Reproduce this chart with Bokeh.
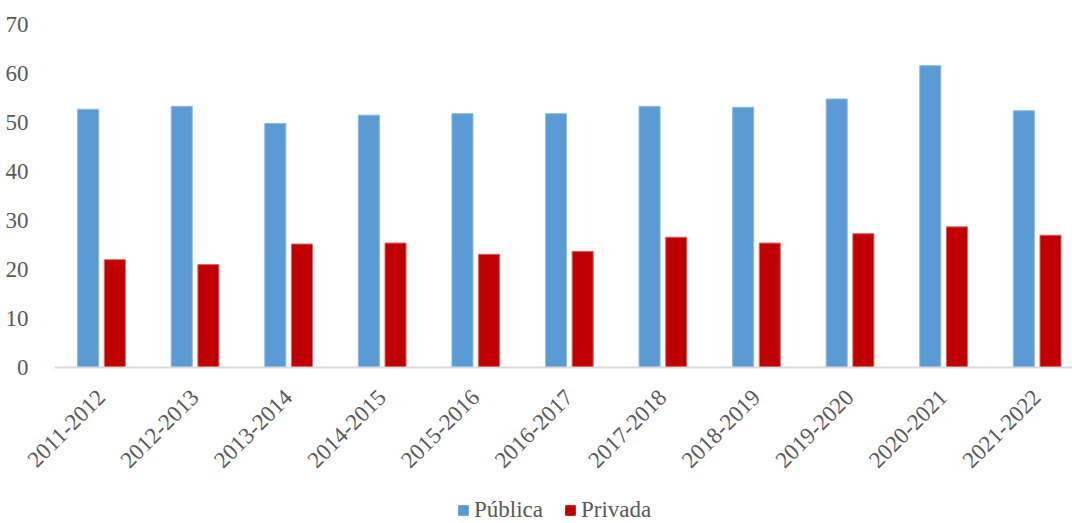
from bokeh.plotting import figure
from bokeh.models import ColumnDataSource, Range1d, FixedTicker, Legend, LegendItem
from bokeh.layouts import column
from bokeh.transform import dodge
from bokeh.embed import file_html
from bokeh.resources import INLINE

years = ["2011-2012", "2012-2013", "2013-2014", "2014-2015", "2015-2016", "2016-2017",
         "2017-2018", "2018-2019", "2019-2020", "2020-2021", "2021-2022"]
publica = [52.7, 53.3, 49.8, 51.5, 51.8, 51.8, 53.3, 53.1, 54.8, 61.6, 52.4]
privada = [22.0, 21.0, 25.2, 25.4, 23.1, 23.7, 26.6, 25.4, 27.3, 28.7, 27.0]
y_ticks = [0, 10, 20, 30, 40, 50, 60, 70]
series = ["Pública", "Privada"]
colors = ["#5B9BD5", "#C00000"]

FONT = "Liberation Serif"
TXT = "#595959"
FS = "23px"

src = ColumnDataSource(dict(x=list(range(len(years))), pub=publica, pri=privada))

p = figure(width=1072, height=483, output_backend="svg", toolbar_location=None,
           x_range=Range1d(-0.5, 10.38), y_range=Range1d(0, 70),
           min_border_left=54, min_border_right=0, min_border_top=24, min_border_bottom=116)
p.outline_line_color = None
p.xgrid.visible = False
p.ygrid.visible = False

p.vbar(x=dodge("x", -0.14, range=p.x_range), top="pub", width=0.225, source=src,
       fill_color=colors[0], line_color="#8DB9E3", line_width=1)
p.vbar(x=dodge("x", 0.145, range=p.x_range), top="pri", width=0.225, source=src,
       fill_color=colors[1], line_color="#D96666", line_width=1)

xa = p.xaxis[0]
xa.ticker = FixedTicker(ticks=list(range(len(years))))
xa.major_label_overrides = {i: y for i, y in enumerate(years)}
xa.major_label_orientation = 0.785398
xa.axis_line_color = "#D9D9D9"
xa.axis_line_width = 2
xa.major_tick_line_color = None
xa.minor_tick_line_color = None
xa.major_label_text_font = FONT
xa.major_label_text_font_size = FS
xa.major_label_text_color = TXT
xa.major_label_standoff = 20

ya = p.yaxis[0]
ya.ticker = FixedTicker(ticks=y_ticks)
ya.axis_line_color = None
ya.major_tick_line_color = None
ya.minor_tick_line_color = None
ya.major_label_text_font = FONT
ya.major_label_text_font_size = FS
ya.major_label_text_color = TXT
ya.major_label_standoff = 20

# legend strip (its bars sit outside the strip's visible range; only the legend shows)
q = figure(width=1072, height=40, output_backend="svg", toolbar_location=None,
           x_range=Range1d(0, 1), y_range=Range1d(0, 1),
           min_border=0, min_border_left=0, min_border_right=0, min_border_top=0, min_border_bottom=0)
q.axis.visible = False
q.grid.visible = False
q.outline_line_color = None
hidden = ColumnDataSource(dict(x=[-10], top=[-10]))
lr1 = q.vbar(x="x", top="top", width=0.1, source=hidden, fill_color=colors[0], line_color=colors[0])
lr2 = q.vbar(x="x", top="top", width=0.1, source=hidden, fill_color=colors[1], line_color=colors[1])
legend = Legend(items=[LegendItem(label=series[0], renderers=[lr1]),
                       LegendItem(label=series[1], renderers=[lr2])],
                orientation="horizontal", location=(403, 0),
                glyph_width=12, glyph_height=12, label_standoff=5, spacing=21,
                padding=0, margin=0, border_line_color=None, background_fill_alpha=0,
                label_text_font=FONT, label_text_font_size=FS, label_text_color=TXT)
q.add_layout(legend, "center")

open("out.html", "w").write(file_html(column(p, q, spacing=0), INLINE))
